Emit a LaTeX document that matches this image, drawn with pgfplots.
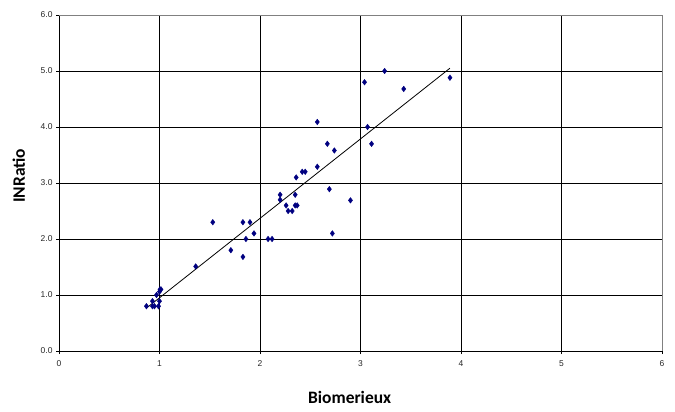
\documentclass[border=0pt]{standalone}
\usepackage{pgfplots}
\pgfplotsset{compat=1.18}
\usepackage{fontspec}
\setmainfont{Liberation Sans}
\newfontfamily\labelfont{Carlito}
\begin{document}
\begin{tikzpicture}[x=1bp,y=1bp]
\path (0,0) rectangle (675,411);
\begin{axis}[
  at={(59bp,60bp)}, anchor=south west,
  scale only axis, width=603bp, height=336bp,
  xmin=0, xmax=6, ymin=0, ymax=6,
  xtick={0,1,2,3,4,5,6}, ytick={0,1,2,3,4,5,6},
  yticklabel style={/pgf/number format/.cd, fixed, fixed zerofill, precision=1},
  xticklabel style={yshift=-3bp},
  /pgf/number format/assume math mode=true,
  ticklabel style={font=\fontsize{8.5}{10}\selectfont, text=black!85},
  axis x line*=bottom, axis y line*=left,
  axis line style={black, line width=0.9bp},
  tick style={black, line width=0.6bp},
  tick align=outside, major tick length=3bp,
  grid=major, grid style={black, line width=0.9bp},
  xlabel={\labelfont\bfseries Biomerieux},
  ylabel={\labelfont\bfseries INRatio},
  label style={font=\fontsize{17.5}{20}\selectfont},
  xlabel style={at={(axis description cs:0.482,0)}, anchor=base, yshift=-52bp},
  ylabel style={at={(axis description cs:-0.0564,0.521)}, anchor=base},
  clip=false,
]
\addplot[only marks, mark=diamond*, mark size=2.8bp, color={rgb,255:red,0;green,0;blue,128}] coordinates {
(0.87,0.80) (0.93,0.89) (0.93,0.80) (0.95,0.80) (0.99,0.80) (0.97,1.00)
(1.00,0.89) (1.00,1.06) (1.005,1.10) (1.015,1.10)
(1.36,1.51) (1.53,2.30) (1.71,1.80) (1.83,2.30) (1.90,2.30) (1.83,1.68)
(1.86,2.00) (1.94,2.10) (2.08,2.00) (2.12,2.00)
(2.20,2.79) (2.20,2.70) (2.26,2.60) (2.28,2.50) (2.32,2.50) (2.35,2.79)
(2.35,2.60) (2.37,2.60) (2.36,3.10) (2.42,3.20) (2.45,3.20) (2.57,3.29)
(2.57,4.09) (2.67,3.70) (2.74,3.58) (2.69,2.89) (2.72,2.10) (2.90,2.69)
(3.04,4.80) (3.07,4.00) (3.11,3.70) (3.24,5.00) (3.43,4.68) (3.89,4.88)
};
\addplot[black, line width=0.8bp, no marks] coordinates {(0.88,0.78) (3.89,5.05)};
\draw[gray, line width=0.9bp] (rel axis cs:0,1) -- (rel axis cs:1,1) -- (rel axis cs:1,0);
\end{axis}
\end{tikzpicture}
\end{document}
